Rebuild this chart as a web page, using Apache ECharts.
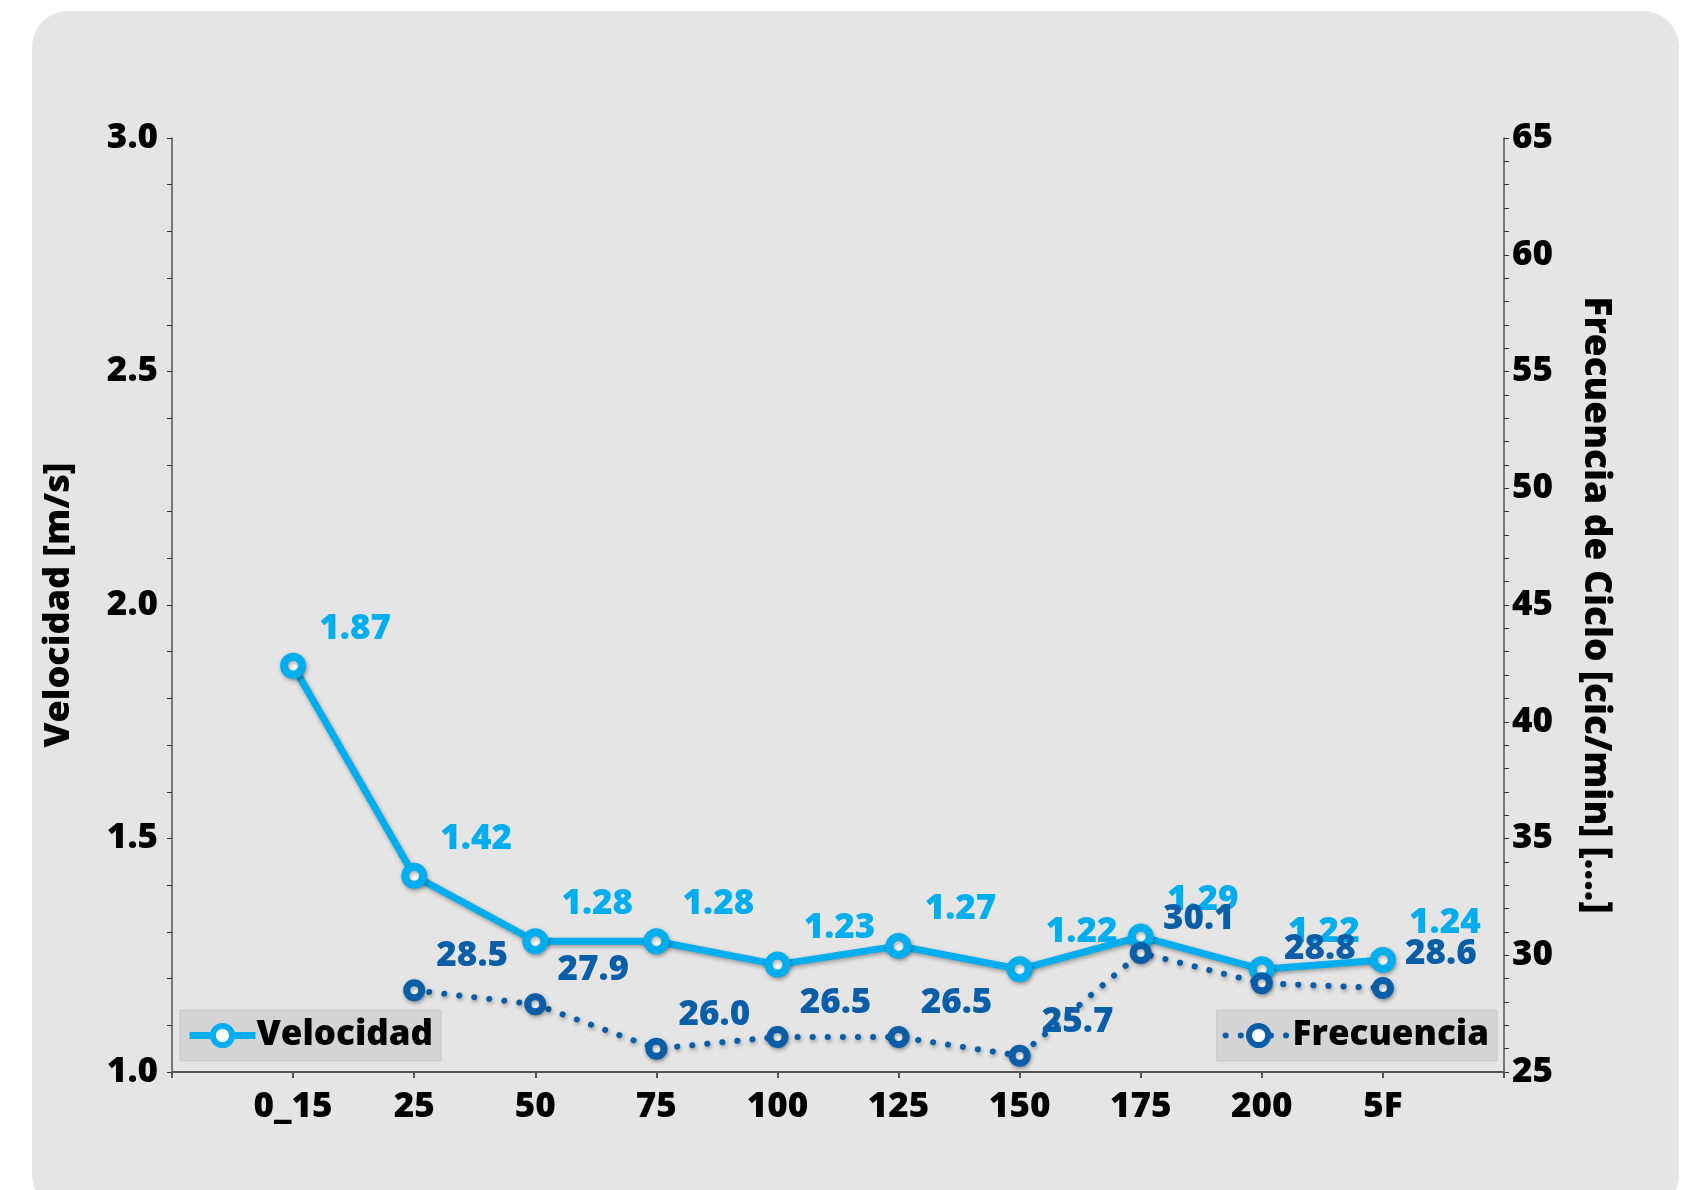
<!DOCTYPE html>
<html>
<head>
<meta charset="utf-8">
<script src="https://cdn.jsdelivr.net/npm/echarts@6/dist/echarts.min.js"></script>
<style>
html,body{margin:0;padding:0;background:#fff;}
#c{width:1693px;height:1190px;}
</style>
</head>
<body>
<div id="c"></div>
<script>
const categories = ['', '0_15', '25', '50', '75', '100', '125', '150', '175', '200', '5F', ''];
const velocidad = [null, 1.87, 1.42, 1.28, 1.28, 1.23, 1.27, 1.22, 1.29, 1.22, 1.24, null];
const frecuencia = [null, null, 28.5, 27.9, 26.0, 26.5, 26.5, 25.7, 30.1, 28.8, 28.6, null];

const FONT = '"Open Sans"';
const W = 800;
const FS = 35;
const LIGHT = '#00aeef';
const DARK = '#0a5ea8';
const shadow = {shadowColor:'rgba(0,0,0,0.35)', shadowBlur:4, shadowOffsetX:1, shadowOffsetY:2};

const legendCommon = {
  orient: 'horizontal', top: 1010,
  backgroundColor: '#d4d4d4', borderColor: '#c9c9c9', borderWidth: 1,
  padding: [8, 8, 8, 6], itemWidth: 66, itemHeight: 24, itemGap: 4,
  textStyle: {fontFamily: FONT, fontWeight: W, fontSize: 35, color: '#000', padding: [0,0,0,-4]}
};

const chart = echarts.init(document.getElementById('c'), null, {renderer:'canvas'});
chart.setOption({
  backgroundColor: '#ffffff',
  animation: false,
  textStyle: {fontFamily: FONT},
  graphic: [{
    type: 'rect', z: -10, silent: true,
    shape: {x: 32, y: 11, width: 1647, height: 1200, r: 36},
    style: {fill: '#e5e5e5'}
  }],
  grid: {left: 172, right: 189, top: 138, bottom: 118, containLabel: false},
  legend: [
    Object.assign({data: ['Velocidad'], left: 180,
      lineStyle: {width: 7}, itemStyle: {borderWidth: 6}}, legendCommon),
    Object.assign({data: ['Frecuencia'], right: 196,
      lineStyle: {width: 6}, itemStyle: {borderWidth: 6}}, legendCommon)
  ],
  xAxis: {
    type: 'category', data: categories, boundaryGap: false,
    axisLine: {lineStyle: {color: '#555', width: 2}},
    axisTick: {show: true, length: 6, lineStyle: {color: '#555', width: 2}},
    axisLabel: {fontFamily: FONT, fontWeight: W, fontSize: FS, color: '#000', margin: 18, interval: 0},
    splitLine: {show: false}
  },
  yAxis: [{
    type: 'value', min: 1, max: 3, interval: 0.5, position: 'left',
    name: 'Velocidad [m/s]', nameLocation: 'middle', nameGap: 95, nameRotate: 90,
    nameTextStyle: {fontFamily: FONT, fontWeight: W, fontSize: 36, color: '#000'},
    axisLine: {show: true, lineStyle: {color: '#555', width: 1.5}},
    axisTick: {show: true, length: 5, lineStyle: {color: '#333'}},
    minorTick: {show: true, splitNumber: 5, length: 5, lineStyle: {color: '#333'}},
    axisLabel: {fontFamily: FONT, fontWeight: W, fontSize: FS, color: '#000', margin: 14,
      formatter: v => v.toFixed(1)},
    splitLine: {show: false}
  }, {
    type: 'value', min: 25, max: 65, interval: 5, position: 'right',
    name: 'Frecuencia de Ciclo [cic/min] [....]', nameLocation: 'middle', nameGap: 73, nameRotate: -90,
    nameTextStyle: {fontFamily: FONT, fontWeight: W, fontSize: 37, color: '#000'},
    axisLine: {show: true, lineStyle: {color: '#555', width: 1.5}},
    axisTick: {show: true, length: 5, lineStyle: {color: '#333'}},
    minorTick: {show: true, splitNumber: 5, length: 5, lineStyle: {color: '#333'}},
    axisLabel: {fontFamily: FONT, fontWeight: W, fontSize: FS, color: '#000', margin: 8},
    splitLine: {show: false}
  }],
  series: [{
    name: 'Velocidad', type: 'line', yAxisIndex: 0, data: velocidad,
    symbol: 'circle', symbolSize: 18, showSymbol: true, connectNulls: false,
    lineStyle: Object.assign({color: LIGHT, width: 7}, shadow),
    itemStyle: Object.assign({color: '#fff', borderColor: LIGHT, borderWidth: 8}, shadow),
    label: {show: true, position: 'inside', offset: [62, -37], color: LIGHT,
      fontFamily: FONT, fontWeight: W, fontSize: FS, formatter: p => p.value == null ? '' : p.value.toFixed(2)},
    z: 3
  }, {
    name: 'Frecuencia', type: 'line', yAxisIndex: 1, data: frecuencia,
    symbol: 'circle', symbolSize: 15, showSymbol: true,
    lineStyle: Object.assign({color: DARK, width: 6, type: [0.1, 15], cap: 'round'}, shadow),
    itemStyle: Object.assign({color: '#fff', borderColor: DARK, borderWidth: 7}, shadow),
    label: {show: true, position: 'inside', offset: [58, -34], color: DARK,
      fontFamily: FONT, fontWeight: W, fontSize: FS, formatter: p => p.value == null ? '' : p.value.toFixed(1)},
    z: 4
  }]
});
</script>
</body>
</html>
